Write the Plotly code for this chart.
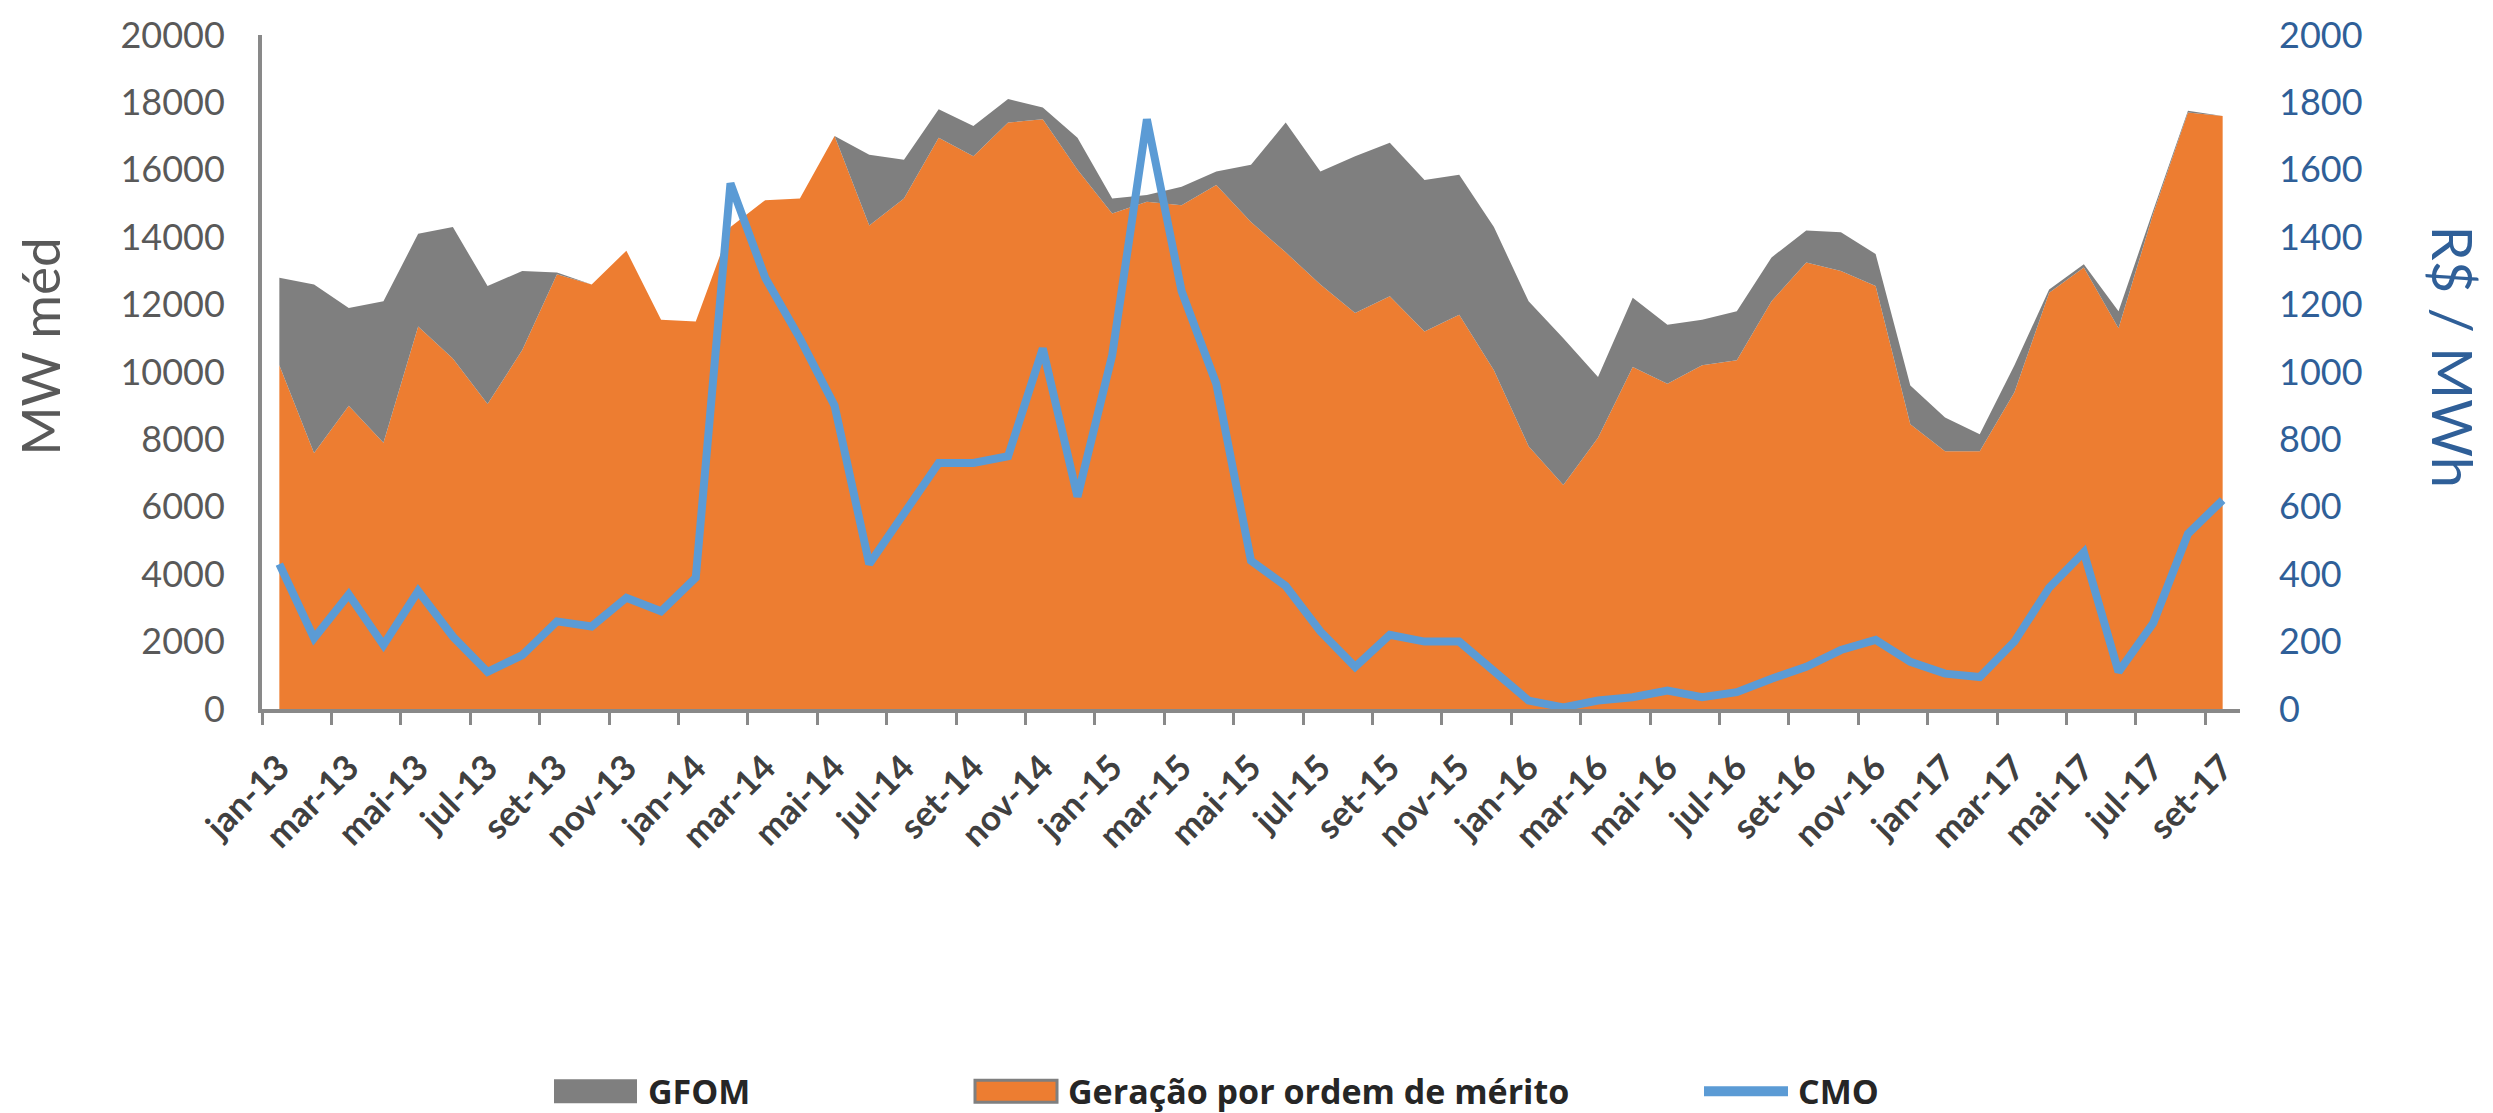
import plotly.graph_objects as go

months = ["jan", "fev", "mar", "abr", "mai", "jun", "jul", "ago", "set", "out", "nov", "dez"]
categories = [f"{m}-{y}" for y in range(13, 18) for m in months][:57]

# Geração por ordem de mérito (MW médio)
merit = [10200, 7600, 9000, 7900, 11350, 10400, 9050, 10650, 12900, 12600, 13600, 11550,
         11500, 14300, 15100, 15150, 17000, 14350, 15150, 16950, 16400, 17400, 17500, 16000,
         14700, 15050, 14950, 15550, 14450, 13550, 12600, 11750, 12250, 11200, 11700, 10050,
         7800, 6650, 8050, 10150, 9650, 10200, 10350, 12100, 13250, 13000, 12550, 8450,
         7650, 7650, 9400, 12350, 13100, 11300, 14700, 17700, 17600]

# GFOM (MW médio), stacked on top of merit-order generation
gfom = [2600, 5000, 2900, 4200, 2750, 3900, 3500, 2350, 50, 0, 0, 0,
        0, 0, 0, 0, 0, 2100, 1150, 850, 900, 700, 350, 950,
        450, 200, 550, 400, 1700, 3850, 3350, 4650, 4550, 4500, 4150, 4250,
        4300, 4350, 1800, 2050, 1750, 1350, 1450, 1300, 950, 1150, 950, 1150,
        1000, 500, 800, 100, 100, 500, 100, 50, 0]

# CMO (R$/MWh)
cmo = [430, 210, 340, 190, 350, 215, 110, 160, 260, 245, 330, 290,
       390, 1560, 1280, 1100, 900, 430, 580, 730, 730, 750, 1070, 630,
       1050, 1750, 1240, 965, 440, 365, 230, 125, 220, 200, 200, 115,
       25, 5, 25, 35, 55, 35, 50, 90, 125, 175, 205, 140,
       105, 95, 200, 360, 465, 110, 255, 520, 620]

legend_labels = ["GFOM", "Geração por ordem de mérito", "CMO"]

W, H = 2493, 1113
ML, MR, MT, MB = 262, 253, 32, 404
PW, PH = W - ML - MR, H - MT - MB

def px_x(px):
    return (px - ML) / PW

def px_y(py):
    return (H - MB - py) / PH

FONT = "Lato, 'Liberation Sans', sans-serif"
LEGFONT = "'Open Sans', 'Liberation Sans', sans-serif"
ORANGE = "#ED7D31"
GREY = "#7F7F7F"
BLUE = "#5B9BD5"
AXIS = "#898989"
DARKBLUE = "#2F5F98"
LEGTXT = "#262626"

fig = go.Figure()
fig.add_trace(go.Scatter(
    x=categories, y=merit, name=legend_labels[1], stackgroup="a",
    mode="lines", line=dict(width=0, color=ORANGE), fillcolor=ORANGE,
    showlegend=False))
fig.add_trace(go.Scatter(
    x=categories, y=gfom, name=legend_labels[0], stackgroup="a",
    mode="lines", line=dict(width=0, color=GREY), fillcolor=GREY,
    showlegend=False))
fig.add_trace(go.Scatter(
    x=categories, y=cmo, name=legend_labels[2], yaxis="y2", mode="lines",
    line=dict(width=8, color=BLUE), showlegend=False))

# Legend drawn as layout shapes + text (bottom row)
LY0, LY1, LYC = 1081, 1105, 1093
shapes = [
    dict(type="rect", xref="paper", yref="paper",
         x0=px_x(554), x1=px_x(637), y0=px_y(LY1), y1=px_y(LY0),
         fillcolor=GREY, line=dict(width=0)),
    dict(type="rect", xref="paper", yref="paper",
         x0=px_x(975), x1=px_x(1057), y0=px_y(LY1 - 1), y1=px_y(LY0 + 1),
         fillcolor=ORANGE, line=dict(width=3, color=GREY)),
    dict(type="line", xref="paper", yref="paper",
         x0=px_x(1704), x1=px_x(1788), y0=px_y(LYC), y1=px_y(LYC),
         line=dict(width=10, color=BLUE)),
]
leg_font = dict(family=LEGFONT, size=34, color=LEGTXT, weight="bold")
annotations = [
    dict(text=legend_labels[0], xref="paper", yref="paper", x=px_x(646), y=px_y(LYC),
         xanchor="left", yanchor="middle", showarrow=False, font=leg_font),
    dict(text=legend_labels[1], xref="paper", yref="paper", x=px_x(1066), y=px_y(LYC),
         xanchor="left", yanchor="middle", showarrow=False, font=leg_font),
    dict(text=legend_labels[2], xref="paper", yref="paper", x=px_x(1796), y=px_y(LYC),
         xanchor="left", yanchor="middle", showarrow=False, font=leg_font),
    dict(text="MW méd", xref="paper", yref="paper", x=px_x(40), y=px_y(345),
         textangle=-90, showarrow=False, xanchor="center", yanchor="middle",
         font=dict(family=FONT, size=53, color="#595959")),
    dict(text="R$ / MWh", xref="paper", yref="paper", x=px_x(2453), y=px_y(355),
         textangle=90, showarrow=False, xanchor="center", yanchor="middle",
         font=dict(family=FONT, size=56, color=DARKBLUE)),
]

fig.update_layout(
    width=W, height=H,
    margin=dict(l=ML, r=MR, t=MT, b=MB),
    paper_bgcolor="white", plot_bgcolor="white",
    showlegend=False,
    xaxis=dict(
        type="category", categoryorder="array", categoryarray=categories,
        range=[-0.5, 56.5], dtick=2, tickson="boundaries",
        ticks="outside", ticklen=12, tickwidth=3, tickcolor=AXIS,
        showline=True, linecolor=AXIS, linewidth=4,
        tickangle=-45, ticklabelstandoff=20,
        tickfont=dict(family=FONT, size=35, color="#404040", weight="bold"),
        showgrid=False, zeroline=False),
    yaxis=dict(
        range=[0, 20000], dtick=2000, tickformat="d", showgrid=False, zeroline=False,
        showline=True, linecolor=AXIS, linewidth=4, ticks="",
        ticklabelstandoff=26,
        tickfont=dict(family=FONT, size=36, color="#595959")),
    yaxis2=dict(
        range=[0, 2000], dtick=200, tickformat="d", overlaying="y", side="right",
        showgrid=False, zeroline=False, showline=False, ticks="",
        ticklabelstandoff=38,
        tickfont=dict(family=FONT, size=36, color=DARKBLUE)),
    shapes=shapes,
    annotations=annotations,
)

fig.write_html(
    "out.html",
    config={"displayModeBar": False},
    post_script="document.body.style.margin='0';document.body.style.overflow='hidden';",
)
